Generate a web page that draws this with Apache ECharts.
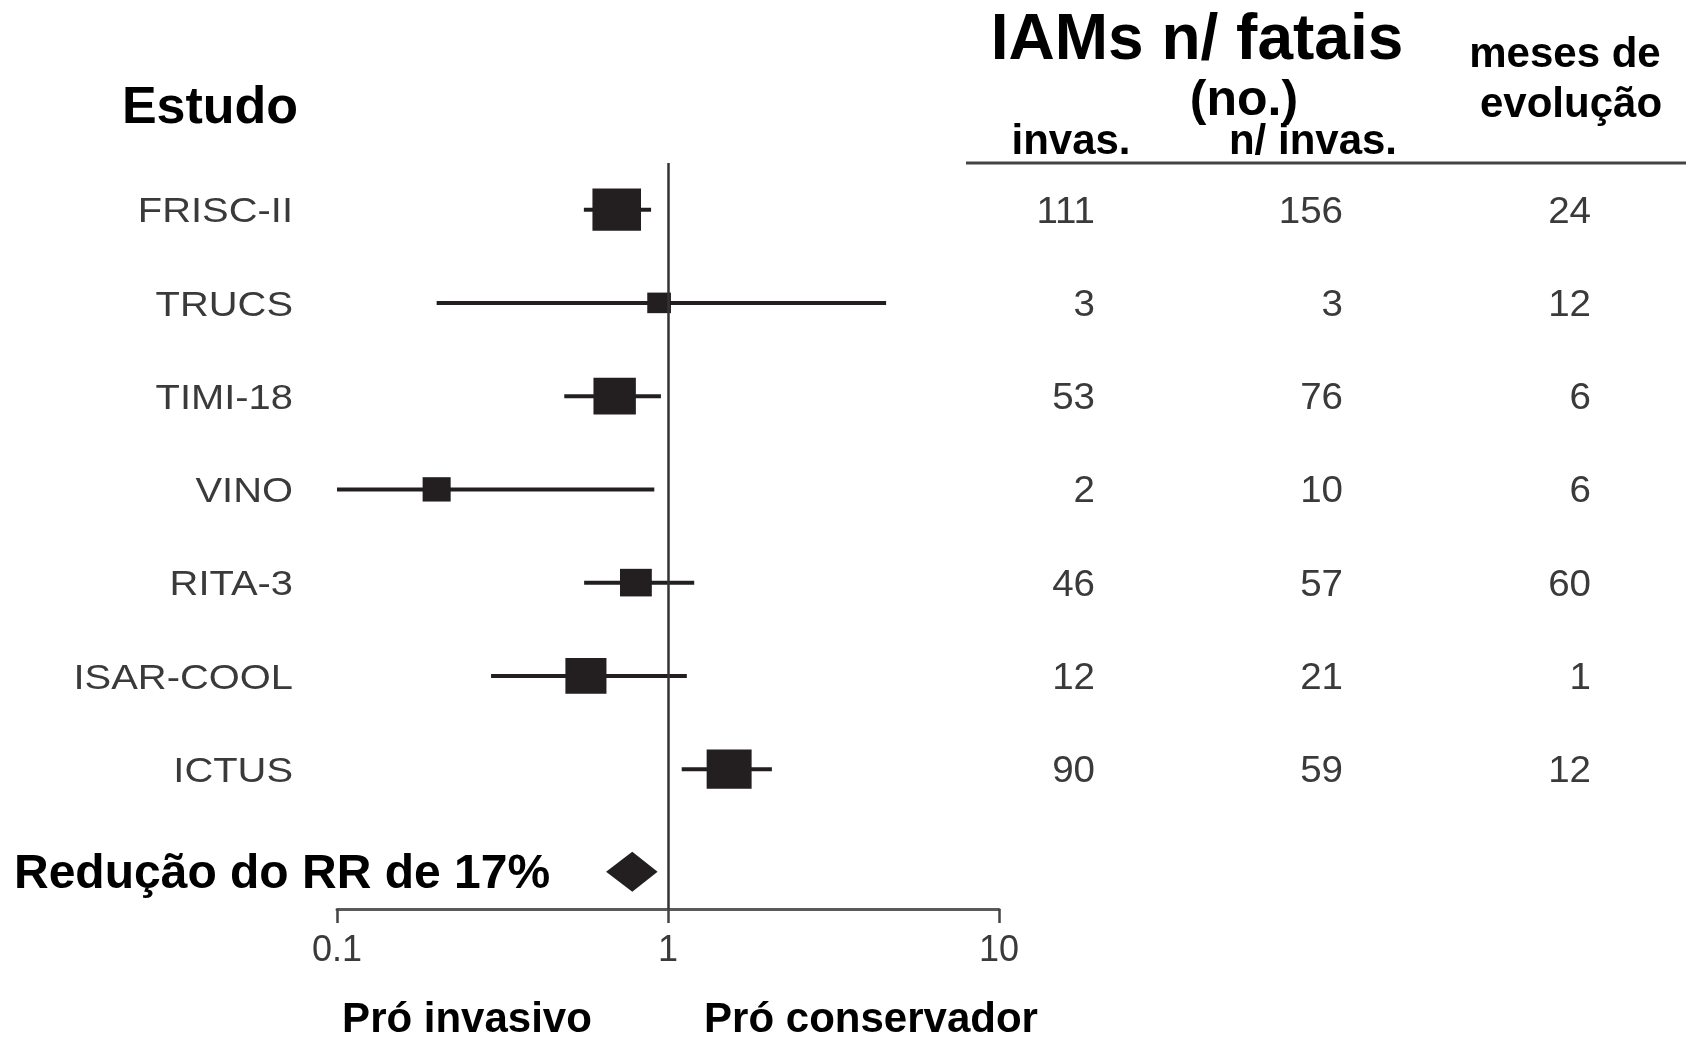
<!DOCTYPE html>
<html>
<head>
<meta charset="utf-8">
<script src="https://cdn.jsdelivr.net/npm/echarts@6/dist/echarts.min.js"></script>
<style>
html,body{margin:0;padding:0;background:#fff;}
#chart{width:1686px;height:1039px;}
</style>
</head>
<body>
<div id="chart"></div>
<script>
// ---- data ----
var studies = ['FRISC-II', 'TRUCS', 'TIMI-18', 'VINO', 'RITA-3', 'ISAR-COOL', 'ICTUS'];
var rr = [0.70, 0.94, 0.69, 0.20, 0.80, 0.565, 1.53];
var lower = [0.557, 0.20, 0.486, 0.10, 0.558, 0.292, 1.10];
var upper = [0.889, 4.56, 0.952, 0.909, 1.20, 1.14, 2.06];
var weights = [21, 5, 16, 7, 9, 15, 18];
var pooled = [0.78, 0.65, 0.93]; // estimate, lower, upper
var pooledLabel = 'Redução do RR de 17%';
var invasive = [111, 3, 53, 2, 46, 12, 90];
var nonInvasive = [156, 3, 76, 10, 57, 21, 59];
var months = [24, 12, 6, 6, 60, 1, 12];
var tickLabels = ['0.1', '1', '10'];
var tableColumns = ['invas.', 'n/ invas.', 'meses de evolução'];

// ---- build ----
var FONT = '"Liberation Sans", Arial, Helvetica, sans-serif';
var INK = '#231f20';
var GREY = '#3a3a3a';
var SUMMARY_ROW = 7.1;

var ciData = studies.map(function (s, i) {
  return [rr[i], i, lower[i], upper[i], weights[i]];
});
var tableData = [];
studies.forEach(function (s, i) {
  tableData.push([0, i, invasive[i]]);
  tableData.push([1, i, nonInvasive[i]]);
  tableData.push([2, i, months[i]]);
});

var chart = echarts.init(document.getElementById('chart'));
var option = {
  backgroundColor: '#ffffff',
  animation: false,
  grid: [
    {left: 337, right: 687, top: 163, bottom: 130},
    {left: 1095, right: 95, top: 163, bottom: 130}
  ],
  xAxis: [
    {
      type: 'log', logBase: 10, min: 0.1, max: 10, gridIndex: 0, position: 'bottom',
      axisLine: {show: true, onZero: false, lineStyle: {color: '#5a5a5a', width: 3}},
      axisTick: {show: true, inside: false, length: 14, lineStyle: {color: '#444', width: 2.5}},
      axisLabel: {
        margin: 24, color: GREY, fontSize: 36, fontFamily: FONT,
        formatter: function (v, idx) { return tickLabels[idx] !== undefined ? tickLabels[idx] : ''; }
      },
      splitLine: {show: false},
      minorTick: {show: false}
    },
    {
      type: 'category', gridIndex: 1, data: tableColumns, boundaryGap: false, show: false
    }
  ],
  yAxis: [
    {type: 'value', min: -0.5, max: 7.5, inverse: true, show: false, gridIndex: 0},
    {type: 'value', min: -0.5, max: 7.5, inverse: true, show: false, gridIndex: 1}
  ],
  series: [
    {
      type: 'custom', name: 'estudos', xAxisIndex: 0, yAxisIndex: 0,
      data: ciData,
      encode: {x: [0, 2, 3], y: 1},
      clip: false,
      renderItem: function (params, api) {
        var y = api.value(1);
        var p0 = api.coord([api.value(2), y]);
        var p1 = api.coord([api.value(3), y]);
        var c = api.coord([api.value(0), y]);
        var size = Math.sqrt(api.value(4)) * 10;
        var w = size * 1.06, h = size * 0.92;
        return {
          type: 'group',
          children: [
            {type: 'line', shape: {x1: p0[0], y1: p0[1], x2: p1[0], y2: p1[1]},
              style: {stroke: INK, lineWidth: 4}},
            {type: 'rect', shape: {x: c[0] - w / 2, y: c[1] - h / 2, width: w, height: h},
              style: {fill: INK}}
          ]
        };
      },
      markLine: {
        silent: true, symbol: ['none', 'none'],
        label: {show: false},
        lineStyle: {color: '#333', width: 2.5, type: 'solid'},
        data: [{xAxis: 1}]
      },
      z: 3
    },
    {
      type: 'custom', name: 'nomes', xAxisIndex: 0, yAxisIndex: 0,
      data: studies.map(function (s, i) { return [0.1, i]; }),
      clip: false,
      renderItem: function (params, api) {
        var p = api.coord([api.value(0), api.value(1)]);
        return {
          type: 'text', x: p[0] - 44, y: p[1] + 3, scaleX: 1.14,
          style: {text: studies[params.dataIndex], fill: GREY, fontSize: 35,
            fontFamily: FONT, align: 'right', verticalAlign: 'middle'}
        };
      }
    },
    {
      type: 'custom', name: 'global', xAxisIndex: 0, yAxisIndex: 0,
      data: [[pooled[0], SUMMARY_ROW, pooled[1], pooled[2]]],
      encode: {x: [0, 2, 3], y: 1},
      clip: false,
      renderItem: function (params, api) {
        var y = api.value(1);
        var l = api.coord([api.value(2), y]);
        var r = api.coord([api.value(3), y]);
        var c = api.coord([api.value(0), y]);
        return {
          type: 'group',
          children: [
            {type: 'polygon', shape: {points: [[l[0], c[1]], [c[0], c[1] - 20], [r[0], c[1]], [c[0], c[1] + 20]]},
              style: {fill: INK}},
            {type: 'text', x: 14, y: c[1] + 3,
              style: {text: pooledLabel, fill: '#000', fontSize: 48, fontWeight: 'bold',
                fontFamily: FONT, align: 'left', verticalAlign: 'middle'}}
          ]
        };
      }
    },
    {
      type: 'custom', name: 'tabela', xAxisIndex: 1, yAxisIndex: 1,
      data: tableData,
      clip: false,
      renderItem: function (params, api) {
        var p = api.coord([api.value(0), api.value(1)]);
        return {
          type: 'text', x: p[0], y: p[1] + 3, scaleX: 1.07,
          style: {text: String(api.value(2)), fill: GREY, fontSize: 36,
            fontFamily: FONT, align: 'right', verticalAlign: 'middle'}
        };
      }
    }
  ],
  graphic: [
    {type: 'text', x: 210, y: 109, style: {text: 'Estudo', fill: '#000', fontSize: 52, fontWeight: 'bold', fontFamily: FONT, align: 'center', verticalAlign: 'middle'}},
    {type: 'text', x: 1197, y: 41, style: {text: 'IAMs n/ fatais', fill: '#000', fontSize: 64, fontWeight: 'bold', fontFamily: FONT, align: 'center', verticalAlign: 'middle'}},
    {type: 'text', x: 1244, y: 101, style: {text: '(no.)', fill: '#000', fontSize: 50, fontWeight: 'bold', fontFamily: FONT, align: 'center', verticalAlign: 'middle'}},
    {type: 'text', x: 1071, y: 142, style: {text: 'invas.', fill: '#000', fontSize: 42, fontWeight: 'bold', fontFamily: FONT, align: 'center', verticalAlign: 'middle'}},
    {type: 'text', x: 1313, y: 142, style: {text: 'n/ invas.', fill: '#000', fontSize: 42, fontWeight: 'bold', fontFamily: FONT, align: 'center', verticalAlign: 'middle'}},
    {type: 'text', x: 1565, y: 55, style: {text: 'meses de', fill: '#000', fontSize: 42, fontWeight: 'bold', fontFamily: FONT, align: 'center', verticalAlign: 'middle'}},
    {type: 'text', x: 1571, y: 105, style: {text: 'evolução', fill: '#000', fontSize: 42, fontWeight: 'bold', fontFamily: FONT, align: 'center', verticalAlign: 'middle'}},
    {type: 'line', shape: {x1: 966, y1: 163, x2: 1686, y2: 163}, style: {stroke: '#444', lineWidth: 3}},
    {type: 'text', x: 467, y: 1020, style: {text: 'Pró invasivo', fill: '#000', fontSize: 42, fontWeight: 'bold', fontFamily: FONT, align: 'center', verticalAlign: 'middle'}},
    {type: 'text', x: 871, y: 1020, style: {text: 'Pró conservador', fill: '#000', fontSize: 42, fontWeight: 'bold', fontFamily: FONT, align: 'center', verticalAlign: 'middle'}}
  ]
};
chart.setOption(option);
</script>
</body>
</html>
